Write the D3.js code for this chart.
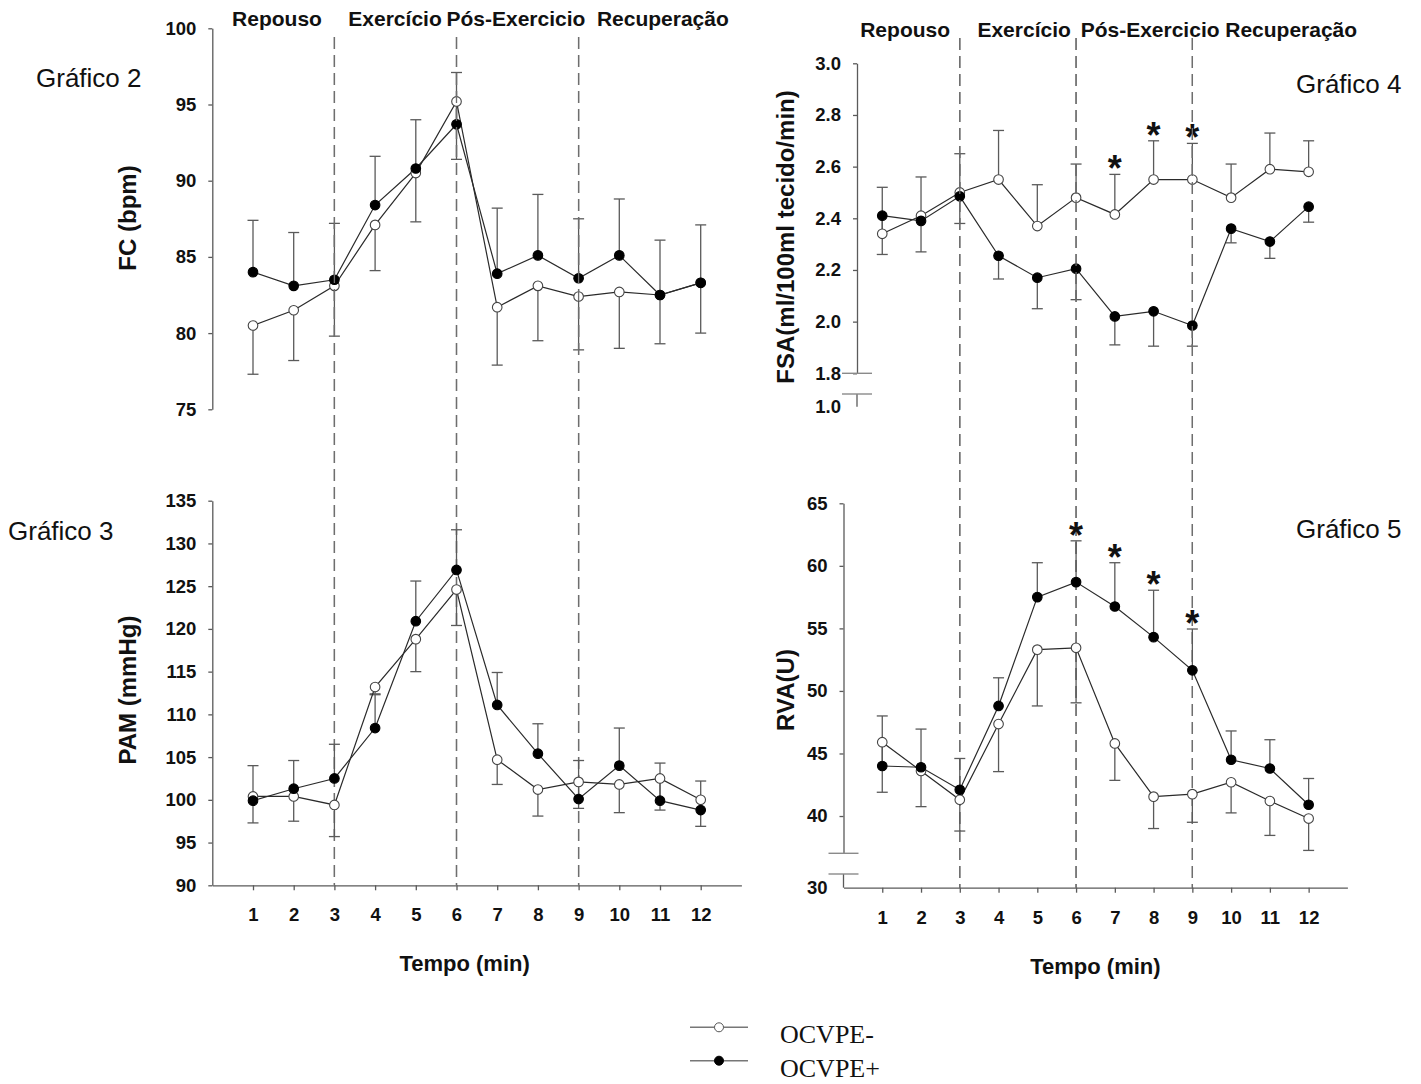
<!DOCTYPE html>
<html>
<head>
<meta charset="utf-8">
<title>FC, PAM, FSA, RVA</title>
<style>
  body { margin: 0; background: #fff; }
  svg { display: block; }
  .tick text, .hdr, .ttl { font-family: "Liberation Sans", Arial, sans-serif; font-weight: bold; fill: #111; }
  .graf { font-family: "Liberation Sans", Arial, sans-serif; font-size: 26px; fill: #111; }
  .leg { font-family: "Liberation Serif", "Times New Roman", serif; font-size: 26px; fill: #111; }
</style>
<script src="https://cdnjs.cloudflare.com/ajax/libs/d3/7.8.5/d3.min.js"></script>
</head>
<body>
<svg id="fig" width="1421" height="1084"></svg>
<script>
// ---- data ----
var tempo = [1, 2, 3, 4, 5, 6, 7, 8, 9, 10, 11, 12];
var phases = ["Repouso", "Exercício", "Pós-Exercicio", "Recuperação"];
var phaseBounds = [3, 6, 9];
var seriesNames = ["OCVPE-", "OCVPE+"];

// FC (bpm)
var fcNeg    = [80.5, 81.5, 83.1, 87.1, 90.5, 95.2, 81.7, 83.1, 82.4, 82.7, 82.5, 83.3];
var fcNegErr = [3.2, 3.3, 3.3, 3.0, 3.2, 3.8, 3.8, 3.6, 3.5, 3.7, 3.2, 3.3];
var fcPos    = [84.0, 83.1, 83.5, 88.4, 90.8, 93.7, 83.9, 85.1, 83.6, 85.1, 82.5, 83.3];
var fcPosErr = [3.4, 3.5, 3.7, 3.2, 3.2, 3.4, 4.3, 4.0, 3.9, 3.7, 3.6, 3.8];

// PAM (mmHg)
var pamNeg    = [100.4, 100.4, 99.4, 113.2, 118.8, 124.6, 104.7, 101.2, 102.1, 101.8, 102.5, 100.0];
var pamNegErr = [3.1, 2.9, 3.7, 0.8, 3.8, 4.2, 2.9, 3.1, 3.1, 3.3, 3.7, 3.1];
var pamPos    = [99.9, 101.3, 102.5, 108.4, 120.9, 126.9, 111.1, 105.4, 100.1, 104.0, 99.9, 98.8];
var pamPosErr = [4.1, 3.3, 4.0, 3.9, 4.7, 4.7, 3.8, 3.5, 4.5, 4.4, 4.4, 3.4];

// FSA (ml/100ml tecido/min)
var fsaNeg    = [2.34, 2.41, 2.50, 2.55, 2.37, 2.48, 2.415, 2.55, 2.55, 2.48, 2.59, 2.58];
var fsaNegErr = [0.18, 0.15, 0.15, 0.19, 0.16, 0.13, 0.155, 0.15, 0.14, 0.13, 0.14, 0.12];
var fsaPos    = [2.41, 2.39, 2.485, 2.255, 2.17, 2.205, 2.02, 2.04, 1.985, 2.36, 2.31, 2.445];
var fsaPosErr = [0.15, 0.12, 0.105, 0.09, 0.12, 0.12, 0.11, 0.135, 0.08, 0.055, 0.065, 0.06];
var fsaSig = [7, 8, 9];

// RVA (U)
var rvaNeg    = [45.9, 43.6, 41.3, 47.35, 53.3, 53.45, 45.8, 41.55, 41.75, 42.7, 41.2, 39.8];
var rvaNegErr = [4.0, 2.85, 2.5, 3.8, 4.5, 4.4, 2.95, 2.55, 2.25, 2.45, 2.75, 2.55];
var rvaPos    = [44.0, 43.9, 42.1, 48.8, 57.5, 58.7, 56.75, 54.3, 51.65, 44.5, 43.8, 40.9];
var rvaPosErr = [4.0, 3.05, 2.5, 2.25, 2.75, 3.3, 3.5, 3.75, 3.3, 2.3, 2.3, 2.1];
var rvaSig = [6, 7, 8, 9];

var svg = d3.select("#fig");
svg.append("rect").attr("width", 1421).attr("height", 1084).attr("fill", "#fff");

var AXIS = "#5a5a5a", LINE = "#2a2a2a", DASH = "#6e6e6e";

function panel(o) {
  var g = svg.append("g");
  var x = d3.scaleLinear().domain([0, 13]).range(o.xr);
  var y = d3.scaleLinear().domain(o.yd).range(o.yr);

  // phase separators
  g.selectAll("line.phase").data(phaseBounds).join("line")
    .attr("class", "phase")
    .attr("x1", d => x(d)).attr("x2", d => x(d))
    .attr("y1", o.dashY[0]).attr("y2", o.dashY[1])
    .attr("stroke", DASH).attr("stroke-width", 1.3)
    .attr("stroke-dasharray", "12,6");

  // y axis
  var ya = g.append("g").attr("transform", "translate(" + o.ax + ",0)")
    .call(d3.axisLeft(y).tickValues(o.yt).tickSize(4).tickSizeOuter(0)
      .tickPadding(12).tickFormat(o.fmt));
  ya.select(".domain").attr("stroke", AXIS).attr("stroke-width", 1.3);
  ya.selectAll(".tick line").attr("stroke", AXIS).attr("stroke-width", 1.3);
  ya.selectAll(".tick text").style("font-size", "18.5px");

  if (o.low) {
    var yl = d3.scaleLinear().domain([o.low.v, o.low.v + 1]).range([o.low.y, o.low.y - 1]);
    var yla = g.append("g").attr("transform", "translate(" + o.ax + ",0)")
      .call(d3.axisLeft(yl).tickValues([o.low.v]).tickSize(0).tickPadding(16).tickFormat(o.fmt));
    yla.select(".domain").remove();
    yla.selectAll(".tick text").style("font-size", "18.5px");
    g.append("line").attr("x1", o.ax).attr("x2", o.ax)
      .attr("y1", o.low.top).attr("y2", o.low.y)
      .attr("stroke", AXIS).attr("stroke-width", 1.3);
    [o.yr[0], o.low.top].forEach(function (by) {
      g.append("line").attr("x1", o.ax - 15).attr("x2", o.ax + 15)
        .attr("y1", by).attr("y2", by)
        .attr("stroke", "#8a8a8a").attr("stroke-width", 1.4);
    });
  }

  // x axis
  if (o.xAxisY) {
    var xa = g.append("g").attr("transform", "translate(0," + o.xAxisY + ")")
      .call(d3.axisBottom(x).tickValues(tempo).tickSize(5).tickSizeOuter(0).tickPadding(18));
    xa.select(".domain").attr("stroke", AXIS).attr("stroke-width", 1.3);
    xa.selectAll(".tick line").attr("stroke", AXIS).attr("stroke-width", 1.3);
    xa.selectAll(".tick text").style("font-size", "18.5px");
    g.append("text").attr("class", "ttl")
      .attr("x", x(o.tempoX)).attr("y", o.xAxisY + 86)
      .attr("text-anchor", "middle").style("font-size", "22px")
      .text("Tempo (min)");
  }

  // phase headers (only on the upper panels)
  if (o.hdrX) {
    phases.forEach(function (p, i) {
      g.append("text").attr("class", "hdr")
        .attr("x", x(o.hdrX[i])).attr("y", o.hdrY)
        .attr("text-anchor", "middle").style("font-size", "21px")
        .text(p);
    });
  }

  // y title
  g.append("text").attr("class", "ttl")
    .attr("transform", "translate(" + o.ttl[0] + "," + o.ttl[1] + ") rotate(-90)")
    .attr("text-anchor", "middle").attr("dy", "0.35em")
    .style("font-size", "24px").text(o.title);

  // Gráfico label
  g.append("text").attr("class", "graf").attr("x", o.graf[0]).attr("y", o.graf[1]).text(o.grafText);

  // series: error bars, then lines, then markers
  o.series.forEach(function (s) {
    var eb = g.append("g");
    tempo.forEach(function (t, i) {
      var y0 = y(s.v[i]), y1 = y(s.v[i] + s.dir * s.e[i]);
      eb.append("line").attr("x1", x(t)).attr("x2", x(t)).attr("y1", y0).attr("y2", y1)
        .attr("stroke", AXIS).attr("stroke-width", 1.3);
      eb.append("line").attr("x1", x(t) - 5.5).attr("x2", x(t) + 5.5).attr("y1", y1).attr("y2", y1)
        .attr("stroke", AXIS).attr("stroke-width", 1.3);
    });
  });
  var line = d3.line().x((d, i) => x(tempo[i])).y(d => y(d));
  o.series.forEach(function (s) {
    g.append("path").datum(s.v).attr("d", line)
      .attr("fill", "none").attr("stroke", LINE).attr("stroke-width", 1.2);
  });
  o.series.forEach(function (s) {
    g.selectAll(null).data(s.v).join("circle")
      .attr("cx", (d, i) => x(tempo[i])).attr("cy", d => y(d)).attr("r", 4.8)
      .attr("fill", s.open ? "#fff" : "#000")
      .attr("stroke", s.open ? "#444" : "#000").attr("stroke-width", 1.1);
  });

  // significance marks
  if (o.sig) {
    var s = o.sig.ref;
    o.sig.at.forEach(function (t) {
      var i = tempo.indexOf(t);
      g.append("text").attr("class", "ttl")
        .attr("x", x(t)).attr("y", y(s.v[i] + s.e[i]) + 7)
        .attr("text-anchor", "middle").style("font-size", "36px")
        .text("*");
    });
  }
}

var fmt0 = d3.format("d"), fmt1 = d3.format(".1f");
var leftX = [212.3, 741.4], rightX = [843.5, 1347.4];

panel({
  xr: leftX, yd: [75, 100], yr: [409.3, 28.3], ax: 212.3,
  yt: [75, 80, 85, 90, 95, 100], fmt: fmt0, dashY: [37, 885],
  hdrX: [1.59, 4.49, 7.46, 11.07], hdrY: 26,
  title: "FC (bpm)", ttl: [128, 218], graf: [36, 87], grafText: "Gráfico 2",
  series: [
    { v: fcNeg, e: fcNegErr, dir: -1, open: true },
    { v: fcPos, e: fcPosErr, dir: 1, open: false }
  ]
});

panel({
  xr: leftX, yd: [90, 135], yr: [885.3, 500.7], ax: 212.3,
  yt: [90, 95, 100, 105, 110, 115, 120, 125, 130, 135], fmt: fmt0, dashY: [37, 885],
  xAxisY: 885.3, tempoX: 6.2,
  title: "PAM (mmHg)", ttl: [128, 690], graf: [8, 540], grafText: "Gráfico 3",
  series: [
    { v: pamNeg, e: pamNegErr, dir: -1, open: true },
    { v: pamPos, e: pamPosErr, dir: 1, open: false }
  ]
});

var fsaNegS = { v: fsaNeg, e: fsaNegErr, dir: 1, open: true };
panel({
  xr: rightX, yd: [1.8, 3.0], yr: [373.3, 63.3], ax: 857,
  yt: [1.8, 2.0, 2.2, 2.4, 2.6, 2.8, 3.0], fmt: fmt1, dashY: [38, 887.7],
  low: { v: 1.0, y: 406.7, top: 394 },
  hdrX: [1.59, 4.66, 7.91, 11.55], hdrY: 37,
  title: "FSA(ml/100ml tecido/min)", ttl: [786, 237], graf: [1296, 93], grafText: "Gráfico 4",
  series: [
    fsaNegS,
    { v: fsaPos, e: fsaPosErr, dir: -1, open: false }
  ],
  sig: { ref: fsaNegS, at: fsaSig }
});

var rvaPosS = { v: rvaPos, e: rvaPosErr, dir: 1, open: false };
panel({
  xr: rightX, yd: [37.02, 65], yr: [853.3, 503.3], ax: 843.5,
  yt: [40, 45, 50, 55, 60, 65], fmt: fmt0, dashY: [38, 887.7],
  low: { v: 30, y: 887.7, top: 874 },
  xAxisY: 887.7, tempoX: 6.5,
  title: "RVA(U)", ttl: [786, 690], graf: [1296, 538], grafText: "Gráfico 5",
  series: [
    { v: rvaNeg, e: rvaNegErr, dir: -1, open: true },
    rvaPosS
  ],
  sig: { ref: rvaPosS, at: rvaSig }
});

// legend
var leg = svg.append("g");
seriesNames.forEach(function (n, i) {
  var ly = [1027.3, 1060.7][i];
  leg.append("line").attr("x1", 690).attr("x2", 748).attr("y1", ly).attr("y2", ly)
    .attr("stroke", "#777").attr("stroke-width", 1.6);
  leg.append("circle").attr("cx", 719).attr("cy", ly).attr("r", 4.5)
    .attr("fill", i === 0 ? "#fff" : "#000").attr("stroke", i === 0 ? "#555" : "#000");
  leg.append("text").attr("class", "leg").attr("x", 780).attr("y", ly + 16).text(n);
});
</script>
</body>
</html>
